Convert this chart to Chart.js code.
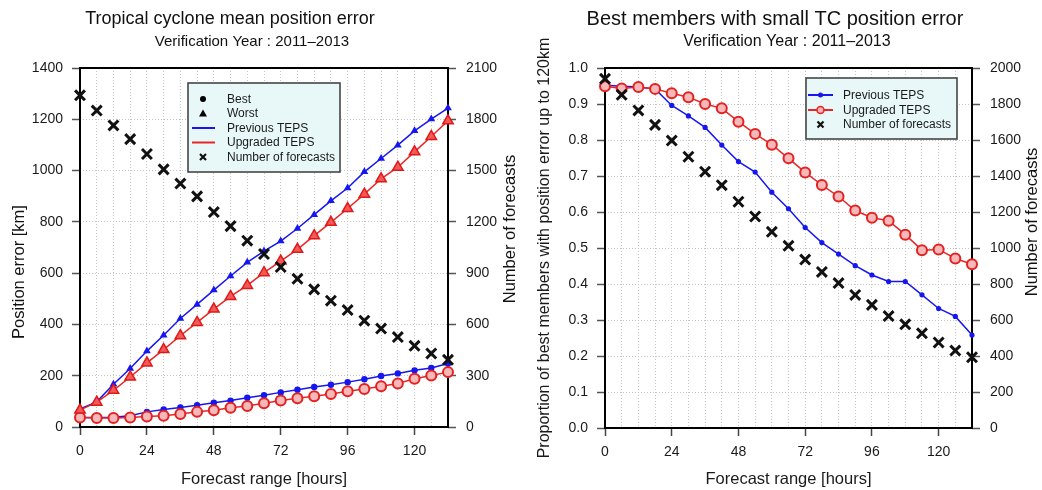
<!DOCTYPE html>
<html><head><meta charset="utf-8">
<script src="https://cdn.jsdelivr.net/npm/chart.js@4/dist/chart.umd.min.js"></script>
<style>
html,body{margin:0;padding:0;background:#fff;}
#wrap{position:relative;width:1042px;height:490px;overflow:hidden;}
canvas{position:absolute;top:0;}
</style></head><body>
<div id="wrap">
<canvas id="left" width="521" height="490" style="left:0"></canvas>
<canvas id="right" width="521" height="490" style="left:521px"></canvas>
</div>
<script>
// ---- data ----
const hours = [0,6,12,18,24,30,36,42,48,54,60,66,72,78,84,90,96,102,108,114,120,126,132];
const xTickLabels = [0,24,48,72,96,120];
const numForecasts = [1940,1851,1764,1684,1597,1507,1424,1349,1257,1175,1090,1012,936,867,805,739,684,622,576,526,475,430,393];
const prevWorst = [70,98,167,228,296,358,423,478,534,589,642,686,725,774,828,882,932,995,1047,1099,1155,1201,1244];
const upgWorst  = [66,97,143,195,250,302,356,408,460,509,552,602,647,693,746,798,852,908,968,1013,1073,1133,1194];
const prevBest  = [37,37,38,44,59,68,76,85,95,103,114,124,135,145,156,165,175,186,199,209,221,230,248];
const upgBest   = [37,35,35,37,41,44,51,59,65,75,82,93,103,112,120,129,139,148,159,170,188,201,214];
const prevProp  = [0.952,0.949,0.947,0.942,0.896,0.867,0.835,0.786,0.740,0.711,0.655,0.609,0.557,0.515,0.483,0.451,0.425,0.407,0.407,0.370,0.332,0.310,0.258];
const upgProp   = [0.949,0.943,0.947,0.942,0.930,0.919,0.900,0.888,0.851,0.817,0.787,0.749,0.710,0.675,0.643,0.604,0.584,0.576,0.537,0.494,0.496,0.471,0.455];

const FONT = "'Liberation Sans', Arial, Helvetica, sans-serif";
Chart.defaults.font.family = FONT;
Chart.defaults.color = '#1a1a1a';

const BLUE = '#1616f0';
const RED = '#e82626';
const pts = arr => hours.map((h,i)=>({x:h, y:arr[i]}));
const plain = v => String(v);

const framePlugin = {
  id:'frame',
  beforeDatasetsDraw(chart){
    const {ctx, chartArea:a} = chart;
    ctx.save(); ctx.strokeStyle='#000'; ctx.lineWidth=2;
    ctx.strokeRect(a.left, a.top, a.right-a.left, a.bottom-a.top);
    ctx.restore();
  }
};

// titles and rotated axis titles drawn as canvas text
const titlePlugin = {
  id:'titles',
  afterDraw(chart, args, o){
    const ctx = chart.ctx;
    ctx.save(); ctx.fillStyle='#111'; ctx.textAlign='center'; ctx.textBaseline='middle';
    ctx.font = o.tsize + 'px ' + FONT; ctx.fillText(o.title, o.tx, 19);
    ctx.font = o.ssize + 'px ' + FONT; ctx.fillText(o.sub, o.sx, 42);
    (o.vtexts||[]).forEach(t=>{
      ctx.save(); ctx.translate(t.x, t.y); ctx.rotate(-Math.PI/2);
      ctx.font = t.size + 'px ' + FONT; ctx.fillText(t.text, 0, 0);
      ctx.restore();
    });
    ctx.restore();
  }
};

function drawMarker(ctx, kind, x, y, color){
  ctx.save();
  if (kind==='dot'){ ctx.fillStyle=color; ctx.beginPath(); ctx.arc(x,y,3,0,Math.PI*2); ctx.fill(); }
  else if (kind==='tri'){ ctx.fillStyle=color; ctx.beginPath(); ctx.moveTo(x,y-4); ctx.lineTo(x+4,y+3); ctx.lineTo(x-4,y+3); ctx.closePath(); ctx.fill(); }
  else if (kind==='x'){ ctx.strokeStyle='#111'; ctx.lineWidth=2.2; ctx.beginPath(); ctx.moveTo(x-3,y-3); ctx.lineTo(x+3,y+3); ctx.moveTo(x+3,y-3); ctx.lineTo(x-3,y+3); ctx.stroke(); }
  else if (kind==='ring'){ ctx.fillStyle='#f6b4b4'; ctx.strokeStyle=color; ctx.lineWidth=1.6; ctx.beginPath(); ctx.arc(x,y,3.5,0,Math.PI*2); ctx.fill(); ctx.stroke(); }
  else if (kind==='sdot'){ ctx.fillStyle=color; ctx.beginPath(); ctx.arc(x,y,2.5,0,Math.PI*2); ctx.fill(); }
  ctx.restore();
}

const legendPlugin = {
  id:'boxlegend',
  afterDraw(chart, args, o){
    const ctx = chart.ctx; const b = o.box;
    ctx.save();
    ctx.fillStyle='#e8f8f8'; ctx.fillRect(b[0],b[1],b[2]-b[0],b[3]-b[1]);
    ctx.strokeStyle='#3a3a3a'; ctx.lineWidth=1.5; ctx.strokeRect(b[0],b[1],b[2]-b[0],b[3]-b[1]);
    ctx.font = '12px ' + FONT; ctx.textBaseline='middle'; ctx.textAlign='left';
    o.items.forEach((it, i)=>{
      const y = o.rows[i];
      if (it.line){ ctx.strokeStyle=it.line; ctx.lineWidth=2; ctx.beginPath(); ctx.moveTo(o.lx[0],y); ctx.lineTo(o.lx[1],y); ctx.stroke(); }
      if (it.mark) drawMarker(ctx, it.mark, o.mx, y, it.mcolor||'#000');
      ctx.fillStyle='#1a1a1a'; ctx.fillText(it.text, o.tx, y+0.5);
    });
    ctx.restore();
  }
};

function xScale(h){
  return {
    type:'linear', position:'bottom', min:0, max:132,
    afterFit: s => { s.height = h; },
    ticks:{ stepSize:6, autoSkip:false, maxRotation:0, padding:8, font:{size:14},
      callback: v => xTickLabels.includes(v) ? String(v) : '' },
    grid:{ color: c => (c.tick && (c.tick.value===0 || c.tick.value===132)) ? 'rgba(0,0,0,0)' : '#c4c4c4',
      lineWidth:1, tickLength:8,
      tickColor: c => (c.tick && xTickLabels.includes(c.tick.value)) ? '#444' : 'rgba(0,0,0,0)', tickWidth:1.5 },
    border:{ display:false, dash:[1,2] },
    title:{ display:true, text:'Forecast range [hours]', font:{size:16.5}, padding:{top:0,bottom:1} }
  };
}

function yScale(opts){
  return Object.assign({
    type:'linear', beginAtZero:true,
    border:{ display:false, dash:[1,2] },
  }, opts);
}

// ---- left chart ----
new Chart(document.getElementById('left'), {
  type:'line',
  data:{ datasets:[
    { label:'Number of forecasts', data:pts(numForecasts), yAxisID:'y2', showLine:false, order:0,
      pointStyle:'crossRot', pointRadius:7, pointBorderWidth:3, borderColor:'#111', backgroundColor:'#111', clip:false },
    { label:'Upgraded TEPS worst', data:pts(upgWorst), yAxisID:'y', order:1, borderColor:RED, borderWidth:1.5,
      pointStyle:'triangle', pointRadius:6, pointBorderWidth:1.5, pointBorderColor:'#e01818', pointBackgroundColor:'#f25a5a', clip:false },
    { label:'Upgraded TEPS best', data:pts(upgBest), yAxisID:'y', order:2, borderColor:RED, borderWidth:1.5,
      pointStyle:'circle', pointRadius:5, pointBorderWidth:2, pointBorderColor:'#e42020', pointBackgroundColor:'#f6b8b8', clip:false },
    { label:'Previous TEPS worst', data:pts(prevWorst), yAxisID:'y', order:3, borderColor:BLUE, borderWidth:1.5,
      pointStyle:'triangle', pointRadius:4.5, pointBorderWidth:0, pointBackgroundColor:BLUE, clip:false },
    { label:'Previous TEPS best', data:pts(prevBest), yAxisID:'y', order:4, borderColor:BLUE, borderWidth:1.5,
      pointStyle:'circle', pointRadius:3.2, pointBorderWidth:0, pointBackgroundColor:BLUE, clip:false }
  ]},
  options:{
    responsive:false, animation:false, events:[],
    layout:{ padding:{ top:68, left:0, right:0, bottom:0 } },
    plugins:{ legend:{display:false}, tooltip:{enabled:false},
      titles:{ title:'Tropical cyclone mean position error', tx:230, tsize:18, sub:'Verification Year : 2011\u20132013', sx:252, ssize:15,
        vtexts:[ {text:'Position error [km]', x:19, y:272, size:16.5}, {text:'Number of forecasts', x:510, y:229, size:16.5} ] },
      boxlegend:{ box:[188,83,340,172], rows:[99,113.5,128,142.5,157], lx:[192,215], mx:203, tx:227,
        items:[ {text:'Best', mark:'dot'}, {text:'Worst', mark:'tri'}, {text:'Previous TEPS', line:BLUE},
                {text:'Upgraded TEPS', line:RED}, {text:'Number of forecasts', mark:'x'} ] }
    },
    scales:{
      x: xScale(63),
      y: yScale({ position:'left', min:0, max:1400,
        afterFit: s => { s.width = 80; },
        ticks:{ stepSize:200, padding:9, font:{size:14}, callback: plain },
        grid:{ color: c => (c.tick && (c.tick.value===0||c.tick.value===1400)) ? 'rgba(0,0,0,0)' : '#c4c4c4', tickLength:8, tickColor:'#555', tickWidth:1.5 } }),
      y2: yScale({ position:'right', min:0, max:2100,
        afterFit: s => { s.width = 73; },
        ticks:{ stepSize:300, padding:10, font:{size:14}, callback: plain },
        grid:{ drawOnChartArea:false, tickLength:8, tickColor:'#555', tickWidth:1.5 } })
    }
  },
  plugins:[framePlugin, titlePlugin, legendPlugin]
});

// ---- right chart ----
new Chart(document.getElementById('right'), {
  type:'line',
  data:{ datasets:[
    { label:'Number of forecasts', data:pts(numForecasts), yAxisID:'y2', showLine:false, order:0,
      pointStyle:'crossRot', pointRadius:7, pointBorderWidth:3, borderColor:'#111', backgroundColor:'#111', clip:false },
    { label:'Upgraded TEPS', data:pts(upgProp), yAxisID:'y', order:1, borderColor:RED, borderWidth:1.5,
      pointStyle:'circle', pointRadius:5, pointBorderWidth:2, pointBorderColor:'#e42020', pointBackgroundColor:'#f6b8b8', clip:false },
    { label:'Previous TEPS', data:pts(prevProp), yAxisID:'y', order:2, borderColor:BLUE, borderWidth:1.5,
      pointStyle:'circle', pointRadius:2.6, pointBorderWidth:0, pointBackgroundColor:BLUE, clip:false }
  ]},
  options:{
    responsive:false, animation:false, events:[],
    layout:{ padding:{ top:68, left:0, right:0, bottom:0 } },
    plugins:{ legend:{display:false}, tooltip:{enabled:false},
      titles:{ title:'Best members with small TC position error', tx:254, tsize:20, sub:'Verification Year : 2011\u20132013', sx:266, ssize:16,
        vtexts:[ {text:'Number of forecasts', x:511, y:222, size:16.5} ] },
      boxlegend:{ box:[285,78,436,139], rows:[95,110,124.5], lx:[287,312], mx:299.5, tx:322,
        items:[ {text:'Previous TEPS', line:BLUE, mark:'sdot', mcolor:BLUE}, {text:'Upgraded TEPS', line:RED, mark:'ring', mcolor:RED},
                {text:'Number of forecasts', mark:'x'} ] }
    },
    scales:{
      x: xScale(62),
      y: yScale({ position:'left', min:0, max:1,
        afterFit: s => { s.width = 84; },
        ticks:{ stepSize:0.1, padding:9, font:{size:14}, callback: v => v.toFixed(1) },
        grid:{ color: c => (c.tick && (c.tick.value===0||c.tick.value===1)) ? 'rgba(0,0,0,0)' : '#c4c4c4', tickLength:8, tickColor:'#555', tickWidth:1.5 },
        title:{ display:true, text:'Proportion of best members with position error up to 120km', font:{size:16}, padding:{top:14} } }),
      y2: yScale({ position:'right', min:0, max:2000,
        afterFit: s => { s.width = 70; },
        ticks:{ stepSize:200, padding:10, font:{size:14}, callback: plain },
        grid:{ drawOnChartArea:false, tickLength:8, tickColor:'#555', tickWidth:1.5 } })
    }
  },
  plugins:[framePlugin, titlePlugin, legendPlugin]
});
</script>
</body></html>
